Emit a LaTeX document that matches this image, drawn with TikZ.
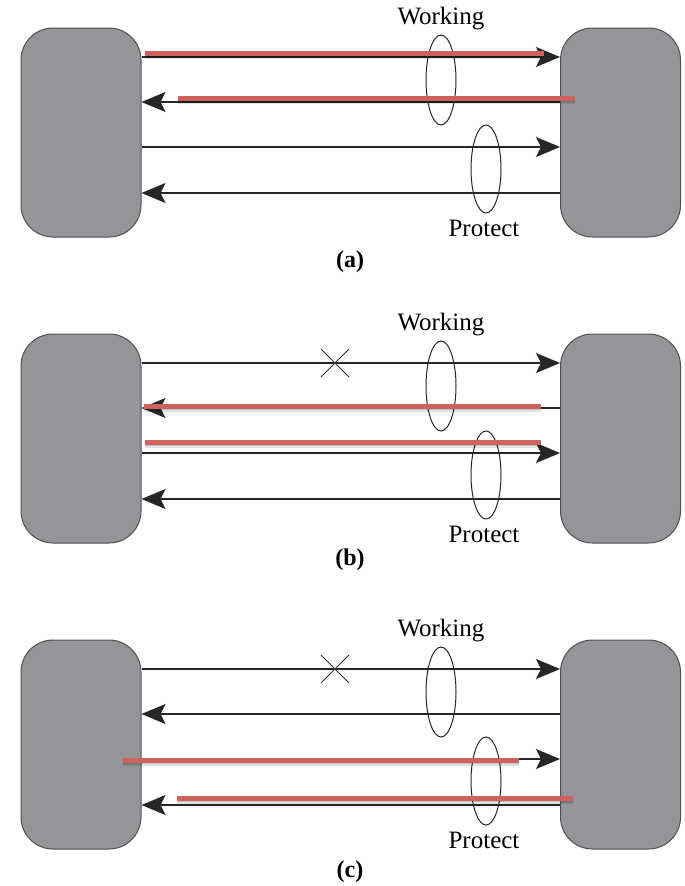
\documentclass[tikz,border=0pt]{standalone}
\usepackage{fontspec}
\setmainfont{Liberation Serif}
\usetikzlibrary{arrows.meta,shapes.geometric}
\definecolor{boxgray}{RGB}{147,149,152}
\definecolor{boxedge}{RGB}{80,80,82}
\definecolor{redpath}{RGB}{205,98,94}
\tikzset{
  x=1pt, y=-1pt,
  nodebox/.style={draw=boxedge, line width=1pt, fill=boxgray, rounded corners=32pt,
    minimum width=120pt, minimum height=209pt, inner sep=0pt},
  fiber/.style={line width=1.3pt, draw=black!85},
  fwd/.style={fiber, -{Stealth[length=24pt,width=20pt,inset=5pt]}},
  redline/.style={line width=5pt, draw=redpath},
  redshadow/.style={line width=5pt, draw=black, opacity=0.12},
  grp/.style={draw=black!85, line width=1pt, ellipse, minimum width=30pt, inner sep=0pt},
  lbl/.style={font=\fontsize{25}{27}\selectfont, inner sep=0pt},
  plbl/.style={font=\bfseries\fontsize{24}{26}\selectfont, inner sep=0pt},
  xmark/.style={line width=1pt, draw=black!80}
}
\newcommand{\redseg}[4]{% name-prefix, y, x1, x2
  \coordinate (#1s) at (#3,#2);
  \coordinate (#1e) at (#4,#2);
  \draw[redshadow] ([yshift=-3pt]#1s) -- ([yshift=-3pt]#1e);
  \draw[redshadow] ([yshift=-1.5pt]#1s) -- ([yshift=-1.5pt]#1e);
  \draw[redline] (#1s) -- (#1e);
}
\newcommand{\basepanel}[1]{% prefix
  \node[nodebox] (#1L) at (81,132.5) {};
  \node[nodebox] (#1R) at (620.5,132.5) {};
  \draw[fwd] (#1L.east |- 0,57) -- (#1R.west |- 0,57);
  \draw[fwd] (#1R.west |- 0,102) -- (#1L.east |- 0,102);
  \draw[fwd] (#1L.east |- 0,147) -- (#1R.west |- 0,147);
  \draw[fwd] (#1R.west |- 0,193) -- (#1L.east |- 0,193);
  \node[lbl] (#1wl) at (441,19) {Working};
  \node[lbl] (#1pl) at (484,228) {Protect};
}
\newcommand{\ellipses}[1]{%
  \node[grp, minimum height=90pt] (#1we) at (441,80) {};
  \node[grp, minimum height=88pt] (#1pe) at (486,169) {};
}
\newcommand{\xcross}[1]{%
  \coordinate (#1x) at (335,57);
  \draw[xmark] ([shift={(-14,-14)}]#1x) -- ([shift={(14,14)}]#1x);
  \draw[xmark] ([shift={(-14,14)}]#1x) -- ([shift={(14,-14)}]#1x);
}
\begin{document}
\begin{tikzpicture}
\useasboundingbox[fill=white] (0,0) rectangle (685,886);
% panel (a)
\begin{scope}
  \basepanel{a}
  \ellipses{a}
  \redseg{ar1}{53}{145}{544}
  \redseg{ar2}{98}{178}{575}
\end{scope}
\node[plbl] (alab) at (350,262) {(a)};
% panel (b)
\begin{scope}[yshift=-306pt]
  \basepanel{b}
  \xcross{b}
  \ellipses{b}
  \redseg{br1}{100}{144}{541}
  \redseg{br2}{136}{145}{541}
\end{scope}
\node[plbl] (blab) at (350,560) {(b)};
% panel (c)
\begin{scope}[yshift=-612pt]
  \basepanel{c}
  \xcross{c}
  \ellipses{c}
  \redseg{cr1}{148}{123}{519}
  \redseg{cr2}{186}{177}{573}
\end{scope}
\node[plbl] (clab) at (350,872) {(c)};
\end{tikzpicture}
\end{document}
